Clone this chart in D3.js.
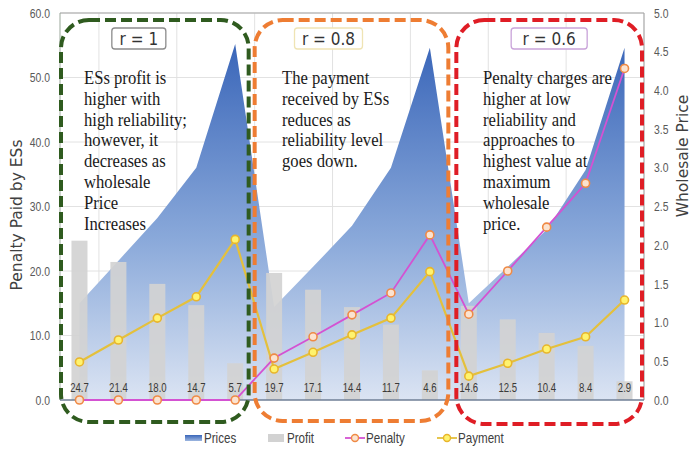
<!DOCTYPE html>
<html>
<head>
<meta charset="utf-8">
<script src="https://cdn.jsdelivr.net/npm/d3@7"></script>
<style>
  body { margin: 0; background: #fff; }
  svg { display: block; }
</style>
</head>
<body>
<svg id="chart" width="700" height="449"></svg>
<script>
// Fifteen scenarios: three reliability levels, five wholesale price steps each
const categories = [
  "r1-p1", "r1-p2", "r1-p3", "r1-p4", "r1-p5",
  "r0.8-p1", "r0.8-p2", "r0.8-p3", "r0.8-p4", "r0.8-p5",
  "r0.6-p1", "r0.6-p2", "r0.6-p3", "r0.6-p4", "r0.6-p5"
];
const groupLabels = ["r = 1", "r = 0.8", "r = 0.6"];

// Wholesale price (right axis)
const prices = [1.25, 1.8, 2.35, 3.0, 4.6, 1.2, 1.72, 2.25, 3.0, 4.55, 1.25, 1.72, 2.2, 2.97, 4.55];
// ESs profit (left axis, bars)
const profit = [24.7, 21.4, 18.0, 14.7, 5.7, 19.7, 17.1, 14.4, 11.7, 4.6, 14.6, 12.5, 10.4, 8.4, 2.9];
// Penalty paid by ESs (left axis)
const penalty = [0, 0, 0, 0, 0, 6.5, 9.8, 13.2, 16.6, 25.6, 13.3, 20.0, 26.8, 33.6, 51.4];
// Payment received by ESs (left axis)
const payment = [5.9, 9.3, 12.7, 16.0, 24.9, 4.8, 7.4, 10.1, 12.7, 19.9, 3.7, 5.7, 7.9, 9.8, 15.5];

const leftTicks = [0, 10, 20, 30, 40, 50, 60];
const rightTicks = [0, 0.5, 1, 1.5, 2, 2.5, 3, 3.5, 4, 4.5, 5];

const notes = [
  ["ESs profit is", "higher with", "high reliability;", "however, it", "decreases as", "wholesale", "Price", "Increases"],
  ["The payment", "received by ESs", "reduces as", "reliability level", "goes down."],
  ["Penalty charges are", "higher at low", "reliability and", "approaches to", "highest value at", "maximum", "wholesale", "price."]
];
const legendItems = ["Prices", "Profit", "Penalty", "Payment"];

const svg = d3.select("#chart");
const plot = { left: 60, right: 644, top: 13, bottom: 400 };
const narrowFont = "Liberation Sans, Arial, sans-serif";
const squeeze = 0.8;   // horizontal squeeze for the condensed label text

const x = d3.scaleBand().domain(d3.range(categories.length)).range([plot.left, plot.right]).padding(0);
const cx = i => x(i) + x.bandwidth() / 2;
const yL = d3.scaleLinear().domain([0, 60]).range([plot.bottom, plot.top]);
const yR = d3.scaleLinear().domain([0, 5]).range([plot.bottom, plot.top]);

// Condensed text: drawn at (tx, ty) and squeezed horizontally
function narrowText(parent, tx, ty, str, size, fill, anchor) {
  return parent.append("text")
    .attr("transform", `translate(${tx},${ty}) scale(${squeeze},1)`)
    .attr("text-anchor", anchor || "start")
    .attr("font-family", narrowFont).attr("font-size", size).attr("fill", fill)
    .text(str);
}

const defs = svg.append("defs");
const grad = defs.append("linearGradient").attr("id", "priceFill")
  .attr("gradientUnits", "userSpaceOnUse")
  .attr("x1", 0).attr("x2", 0).attr("y1", yR(4.6)).attr("y2", plot.bottom);
grad.append("stop").attr("offset", "0%").attr("stop-color", "#3a66b9");
grad.append("stop").attr("offset", "55%").attr("stop-color", "#8aa9da");
grad.append("stop").attr("offset", "100%").attr("stop-color", "#dbe4f3");

const legGrad = defs.append("linearGradient").attr("id", "legFill")
  .attr("x1", 0).attr("x2", 0).attr("y1", 0).attr("y2", 1);
legGrad.append("stop").attr("offset", "0%").attr("stop-color", "#3a66b9");
legGrad.append("stop").attr("offset", "100%").attr("stop-color", "#9db6e0");

// Grid lines
const grid = svg.append("g");
grid.selectAll("line.h").data(leftTicks.slice(1)).join("line")
  .attr("x1", plot.left).attr("x2", plot.right)
  .attr("y1", d => yL(d)).attr("y2", d => yL(d))
  .attr("stroke", "#e2e2e2").attr("stroke-width", 1);
grid.selectAll("line.v").data(d3.range(1, categories.length, 2)).join("line")
  .attr("x1", d => x(d)).attr("x2", d => x(d))
  .attr("y1", plot.top).attr("y2", plot.bottom)
  .attr("stroke", "#e2e2e2").attr("stroke-width", 1);

// Price area
const area = d3.area().x((d, i) => cx(i)).y0(yR(0)).y1(d => yR(d));
svg.append("path").datum(prices).attr("d", area).attr("fill", "url(#priceFill)");

// Profit bars
const barW = 16;
svg.append("g").selectAll("rect").data(profit).join("rect")
  .attr("x", (d, i) => cx(i) - barW / 2)
  .attr("width", barW)
  .attr("y", d => yL(d))
  .attr("height", d => yL(0) - yL(d))
  .attr("fill", "#d2d2d2").attr("fill-opacity", 0.92);

// Plot frame
svg.append("line").attr("x1", plot.left).attr("x2", plot.right).attr("y1", plot.top).attr("y2", plot.top)
  .attr("stroke", "#a6a6a6").attr("stroke-width", 1.2);
svg.append("line").attr("x1", plot.right).attr("x2", plot.right).attr("y1", plot.top).attr("y2", plot.bottom)
  .attr("stroke", "#a6a6a6").attr("stroke-width", 1.2);
svg.append("line").attr("x1", plot.left).attr("x2", plot.left).attr("y1", plot.top).attr("y2", plot.bottom)
  .attr("stroke", "#9aa79a").attr("stroke-width", 1);
svg.append("line").attr("x1", plot.left).attr("x2", plot.right).attr("y1", plot.bottom).attr("y2", plot.bottom)
  .attr("stroke", "#6f7f96").attr("stroke-width", 1.5);

// Profit value labels
const valG = svg.append("g");
profit.forEach((d, i) => narrowText(valG, cx(i), 392, d.toFixed(1), 12, "#3a3a3a", "middle"));

// Lines
const line = d3.line().x((d, i) => cx(i)).y(d => yL(d));
svg.append("path").datum(payment).attr("d", line)
  .attr("fill", "none").attr("stroke", "#e4c03c").attr("stroke-width", 2.2);
svg.append("path").datum(penalty).attr("d", line)
  .attr("fill", "none").attr("stroke", "#d452d2").attr("stroke-width", 1.8);

svg.append("g").selectAll("circle").data(payment).join("circle")
  .attr("cx", (d, i) => cx(i)).attr("cy", d => yL(d)).attr("r", 4)
  .attr("fill", "#fff36e").attr("stroke", "#e8b52c").attr("stroke-width", 1.6);
svg.append("g").selectAll("circle").data(penalty).join("circle")
  .attr("cx", (d, i) => cx(i)).attr("cy", d => yL(d)).attr("r", 4)
  .attr("fill", "#fbe3d0").attr("stroke", "#ef8a45").attr("stroke-width", 1.6);

// Axes (tick text squeezed to a condensed look)
const axL = svg.append("g").attr("transform", `translate(${plot.left},0)`)
  .call(d3.axisLeft(yL).tickValues(leftTicks).tickFormat(d3.format(".1f")).tickSize(0).tickPadding(10));
axL.select(".domain").remove();
axL.selectAll("text").attr("font-family", narrowFont).attr("font-size", 13).attr("fill", "#595959")
  .attr("x", -10 / squeeze).attr("transform", `scale(${squeeze},1)`);

const axR = svg.append("g").attr("transform", `translate(${plot.right},0)`)
  .call(d3.axisRight(yR).tickValues(rightTicks).tickFormat(d3.format(".1f")).tickSize(0).tickPadding(10));
axR.select(".domain").remove();
axR.selectAll("text").attr("font-family", narrowFont).attr("font-size", 13).attr("fill", "#595959")
  .attr("x", 10 / squeeze).attr("transform", `scale(${squeeze},1)`);

svg.append("text").attr("transform", "translate(22,215) rotate(-90)")
  .attr("text-anchor", "middle").attr("font-family", "DejaVu Sans, sans-serif")
  .attr("font-size", 15.5).attr("fill", "#404040").text("Penalty Paid by ESs");
svg.append("text").attr("transform", "translate(688,156) rotate(-90)")
  .attr("text-anchor", "middle").attr("font-family", "DejaVu Sans, sans-serif")
  .attr("font-size", 15.5).attr("fill", "#404040").text("Wholesale Price");

// Reliability group frames with their labels and notes
const frameColors = ["#2f5b1f", "#ee7d33", "#df1d25"];
const frameInset = [[1, 6], [0, 1], [7, 2]];
const frameY = [[20, 422], [20, 421], [20, 424]];
const labelColors = ["#8c8c8c", "#efe4b4", "#c9a3d9"];
const labelW = [54, 68, 76];
const labelShift = [-16, -23, 0];
const noteX = [84, 282, 483];
const noteSqueeze = 0.9;

groupLabels.forEach((g, k) => {
  const x0 = x(k * 5) + frameInset[k][0];
  const x1 = x(k * 5 + 4) + x.bandwidth() - frameInset[k][1];
  svg.append("rect")
    .attr("x", x0).attr("y", frameY[k][0])
    .attr("width", x1 - x0).attr("height", frameY[k][1] - frameY[k][0])
    .attr("rx", 28).attr("ry", 28)
    .attr("fill", "none").attr("stroke", frameColors[k])
    .attr("stroke-width", 4).attr("stroke-dasharray", "11,5");

  const mid = (x0 + x1) / 2 + labelShift[k];
  svg.append("rect")
    .attr("x", mid - labelW[k] / 2).attr("y", 28)
    .attr("width", labelW[k]).attr("height", 21).attr("rx", 3)
    .attr("fill", "#fff").attr("stroke", labelColors[k]).attr("stroke-width", 1.3);
  svg.append("text")
    .attr("transform", `translate(${mid},45) scale(0.9,1)`)
    .attr("text-anchor", "middle").attr("font-family", "DejaVu Sans, sans-serif")
    .attr("font-size", 17).attr("fill", "#333").text(g);

  const t = svg.append("text")
    .attr("transform", `translate(${noteX[k]},0) scale(${noteSqueeze},1)`)
    .attr("font-family", "Liberation Serif, Times New Roman, serif")
    .attr("font-size", 18.5).attr("fill", "#1a1a1a");
  notes[k].forEach((ln, j) => {
    t.append("tspan").attr("x", 0).attr("y", 84 + j * 20.8).text(ln);
  });
});

// Legend
const lg = svg.append("g");
const legX = [185, 268, 345, 437];
legendItems.forEach((name, i) => {
  const gx = legX[i], gy = 438;
  if (i === 0) {
    lg.append("rect").attr("x", gx).attr("y", gy - 3).attr("width", 17).attr("height", 6).attr("fill", "url(#legFill)");
  } else if (i === 1) {
    lg.append("rect").attr("x", gx).attr("y", gy - 4).attr("width", 16).attr("height", 8).attr("fill", "#d2d2d2");
  } else {
    const col = i === 2 ? "#d452d2" : "#e4c03c";
    lg.append("line").attr("x1", gx).attr("x2", gx + 20).attr("y1", gy).attr("y2", gy)
      .attr("stroke", col).attr("stroke-width", 1.8);
    lg.append("circle").attr("cx", gx + 10).attr("cy", gy).attr("r", 3.5)
      .attr("fill", i === 2 ? "#fbe3d0" : "#fff36e")
      .attr("stroke", i === 2 ? "#ef8a45" : "#e8b52c").attr("stroke-width", 1.4);
  }
  narrowText(lg, gx + (i < 2 ? 19 : 21), gy + 5, name, 14.5, "#404040");
});
</script>
</body>
</html>
